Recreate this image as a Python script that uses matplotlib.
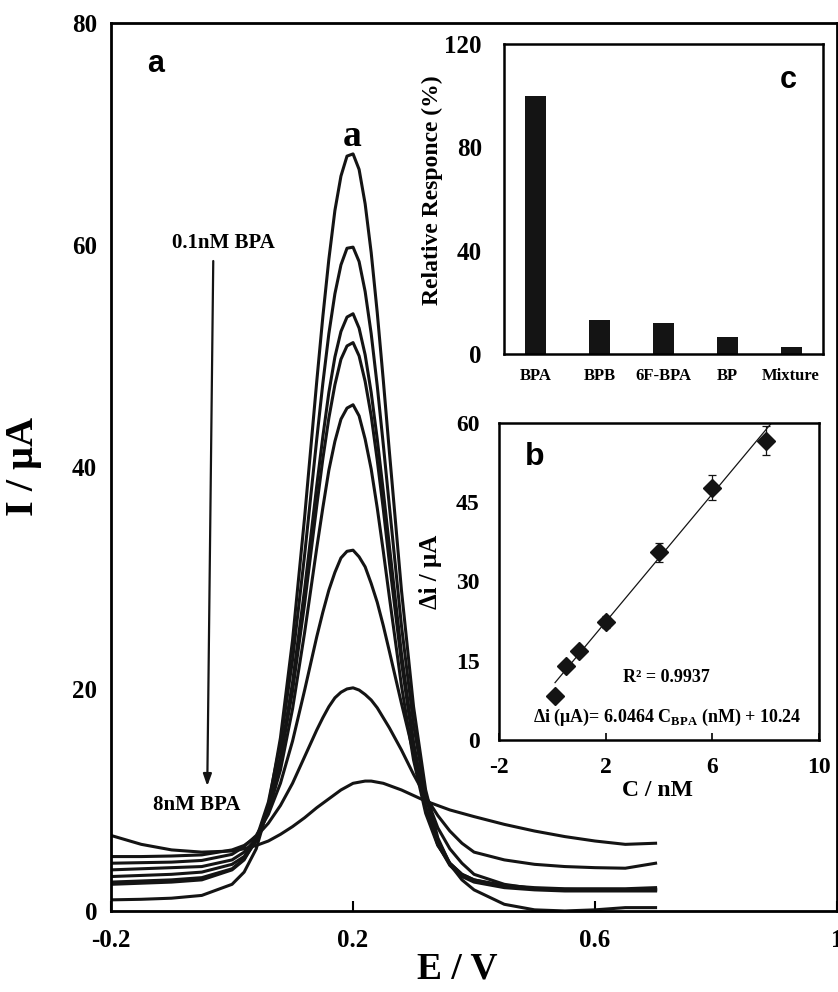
import matplotlib
matplotlib.use("Agg")
import matplotlib.pyplot as plt
import numpy as np

plt.rcParams['font.family'] = ['Liberation Serif', 'DejaVu Serif']
plt.rcParams['font.weight'] = 'bold'
plt.rcParams['axes.labelweight'] = 'bold'
plt.rcParams['axes.unicode_minus'] = False
plt.rcParams['mathtext.fontset'] = 'custom'
plt.rcParams['mathtext.rm'] = 'Liberation Serif:bold'
plt.rcParams['mathtext.bf'] = 'Liberation Serif:bold'

# DPV curves (E / V, I / uA)
E = [-0.2, -0.15, -0.1, -0.05, 0.0, 0.02, 0.04, 0.06, 0.08, 0.10, 0.12, 0.14, 0.15, 0.16,
     0.17, 0.18, 0.19, 0.20, 0.21, 0.22, 0.23, 0.24, 0.25, 0.26, 0.28, 0.30, 0.32, 0.34,
     0.36, 0.38, 0.40, 0.45, 0.50, 0.55, 0.60, 0.65, 0.70]
i_c1 = [1.0, 1.05, 1.15, 1.4, 2.4, 3.5, 5.6, 9.4, 15.6, 24.4, 35.5, 47.7, 53.5, 58.7, 63.1, 66.2,
        68.0, 68.2, 66.8, 63.7, 59.3, 53.9, 47.8, 41.4, 28.9, 18.4, 10.9, 6.6, 4.2, 2.8, 1.9, 0.6,
        0.1, 0.0, 0.1, 0.3, 0.3]
i_c2 = [2.4, 2.5, 2.6, 2.8, 3.7, 4.6, 6.5, 9.8, 15.1, 22.6, 32.1, 42.5, 47.5, 52.0, 55.6, 58.2,
        59.7, 59.8, 58.5, 55.8, 52.0, 47.3, 42.0, 36.5, 25.7, 16.8, 10.3, 6.4, 4.3, 3.3, 2.8, 2.2,
        2.0, 1.9, 1.9, 1.85, 1.9]
i_c3 = [2.6, 2.7, 2.8, 3.0, 3.8, 4.7, 6.3, 9.2, 13.9, 20.6, 29.0, 38.3, 42.7, 46.7, 49.9, 52.2,
        53.5, 53.8, 52.5, 50.1, 46.7, 42.5, 37.8, 32.9, 23.2, 15.2, 9.4, 6.0, 4.1, 3.1, 2.6, 2.1,
        1.9, 1.8, 1.8, 1.8, 1.8]
i_c4 = [3.1, 3.2, 3.3, 3.5, 4.2, 4.9, 6.5, 9.1, 13.6, 19.8, 27.7, 36.5, 40.7, 44.4, 47.4, 49.7,
        50.9, 51.2, 50.0, 47.7, 44.6, 40.6, 36.2, 31.4, 22.4, 14.8, 9.3, 6.0, 4.2, 3.2, 2.7, 2.2,
        2.0, 1.95, 1.9, 1.9, 2.0]
i_c5 = [3.7, 3.8, 3.9, 4.0, 4.6, 5.3, 6.5, 8.9, 12.7, 18.2, 25.1, 32.7, 36.3, 39.7, 42.3, 44.3,
        45.3, 45.6, 44.6, 42.5, 39.8, 36.3, 32.4, 28.3, 20.3, 13.6, 8.8, 5.9, 4.3, 3.3, 2.8, 2.3,
        2.1, 2.0, 2.0, 2.0, 2.1]
i_c6 = [4.3, 4.35, 4.4, 4.55, 5.1, 5.8, 6.8, 8.7, 11.5, 15.3, 19.9, 24.7, 26.9, 28.9, 30.5, 31.8,
        32.4, 32.5, 31.9, 31.0, 29.5, 27.8, 25.7, 23.4, 18.7, 14.2, 10.4, 7.5, 5.6, 4.3, 3.3, 2.4,
        2.0, 1.9, 1.85, 1.85, 1.9]
i_c7 = [4.9, 4.9, 4.95, 5.05, 5.5, 5.9, 6.7, 7.9, 9.5, 11.5, 13.9, 16.3, 17.4, 18.4, 19.2, 19.7,
        20.0, 20.1, 19.9, 19.5, 19.0, 18.3, 17.4, 16.5, 14.5, 12.3, 10.3, 8.6, 7.2, 6.1, 5.3, 4.6,
        4.2, 4.0, 3.9, 3.85, 4.3]
i_c8 = [6.8, 6.0, 5.5, 5.3, 5.4, 5.6, 5.9, 6.3, 6.9, 7.6, 8.4, 9.3, 9.7, 10.1, 10.5, 10.9,
        11.2, 11.5, 11.6, 11.7, 11.7, 11.6, 11.5, 11.3, 10.9, 10.4, 9.9, 9.5, 9.1, 8.8, 8.5, 7.8,
        7.2, 6.7, 6.3, 6.0, 6.1]
curves = [i_c1, i_c2, i_c3, i_c4, i_c5, i_c6, i_c7, i_c8]

# inset c: selectivity
species = ['BPA', 'BPB', '6F-BPA', 'BP', 'Mixture']
rel_resp = [100, 13.2, 12.1, 6.7, 2.8]

# inset b: calibration
conc = [0.1, 0.5, 1, 2, 4, 6, 8]
delta_i = [8.4, 14.0, 16.8, 22.3, 35.5, 47.7, 56.6]
delta_err = [0, 0.6, 0.7, 1.1, 1.8, 2.3, 2.8]
slope, intercept = 6.0464, 10.24

ink = '#141414'
fig = plt.figure(figsize=(8.38, 9.92), dpi=100)

# ---- main panel
ax = fig.add_axes([0.1325, 0.0817, 0.8664, 0.8952])
for c in curves:
    ax.plot(E, c, color=ink, lw=2.2, solid_joinstyle='round')
ax.set_xlim(-0.2, 1.0)
ax.set_ylim(0, 80)
ax.set_xticks([-0.2, 0.2, 0.6, 1.0])
ax.set_xticklabels(['-0.2', '0.2', '0.6', '1'])
ax.set_yticks([0, 20, 40, 60, 80])
ax.tick_params(axis='x', direction='in', length=7, width=1.5, pad=13, labelsize=18)
ax.tick_params(axis='y', length=0, pad=10, labelsize=18)
for s in ax.spines.values():
    s.set_linewidth(2.0)
ax.set_xlabel('E / V', fontsize=27)
ax.xaxis.set_label_coords(0.477, -0.046)
ax.set_ylabel('I / μA', fontsize=29)
ax.yaxis.set_label_coords(-0.095, 0.5)

ax.text(-0.127, 76.3, 'a', family=['Liberation Sans'], fontsize=22, ha='center', va='center')
ax.text(0.198, 69.8, 'a', fontsize=27, ha='center', va='center')
ax.text(-0.015, 60.2, '0.1nM BPA', fontsize=15, ha='center', va='center')
ax.text(-0.058, 9.5, '8nM BPA', fontsize=15, ha='center', va='center')
ax.annotate('', xy=(-0.041, 11.0), xytext=(-0.031, 58.8),
            arrowprops=dict(arrowstyle='-|>,head_length=0.7,head_width=0.25',
                            color=ink, lw=1.6))

# ---- inset c
axc = fig.add_axes([0.6014, 0.6431, 0.3807, 0.3125])
axc.bar(range(len(species)), rel_resp, width=0.33, color=ink)
axc.set_xlim(-0.5, 4.5)
axc.set_ylim(0, 120)
axc.set_yticks([0, 40, 80, 120])
axc.set_xticks(range(len(species)))
axc.set_xticklabels(species, fontsize=12)
axc.tick_params(axis='x', length=0, pad=10)
axc.tick_params(axis='y', length=0, pad=16, labelsize=18)
for s in axc.spines.values():
    s.set_linewidth(1.8)
axc.set_ylabel('Relative Responce (%)', fontsize=17)
axc.yaxis.set_label_coords(-0.19, 0.53)
axc.text(3.95, 106, 'c', family=['Liberation Sans'], fontsize=22, ha='center', va='center')

# ---- inset b
axb = fig.add_axes([0.5955, 0.254, 0.3819, 0.320])
fit_x = np.array([0.1, 8.3])
axb.plot(fit_x, slope * fit_x + intercept, color=ink, lw=0.9)
axb.errorbar(conc, delta_i, yerr=delta_err, fmt='D', color=ink, ms=9,
             ecolor=ink, elinewidth=0.9, capsize=3, capthick=0.9)
axb.set_xlim(-2, 10)
axb.set_ylim(0, 60)
axb.set_xticks([-2, 2, 6, 10])
axb.set_yticks([0, 15, 30, 45, 60])
axb.tick_params(axis='x', direction='in', length=5, width=1.2, pad=12, labelsize=17)
axb.tick_params(axis='y', length=0, pad=14, labelsize=17)
for s in axb.spines.values():
    s.set_linewidth(1.8)
axb.set_xlabel('C / nM', fontsize=17)
axb.xaxis.set_label_coords(0.495, -0.126)
axb.set_ylabel('Δi / μA', fontsize=18)
axb.yaxis.set_label_coords(-0.178, 0.53)
axb.text(-0.66, 53.5, 'b', family=['Liberation Sans'], fontsize=23, ha='center', va='center')
axb.text(4.29, 11.9, 'R² = 0.9937', fontsize=13, ha='center', va='center')
axb.text(4.29, 4.3, r'Δi (μA)= 6.0464 C$_{\mathbf{BPA}}$ (nM) + 10.24', fontsize=13,
         ha='center', va='center')

fig.savefig('out.png', dpi=100)
